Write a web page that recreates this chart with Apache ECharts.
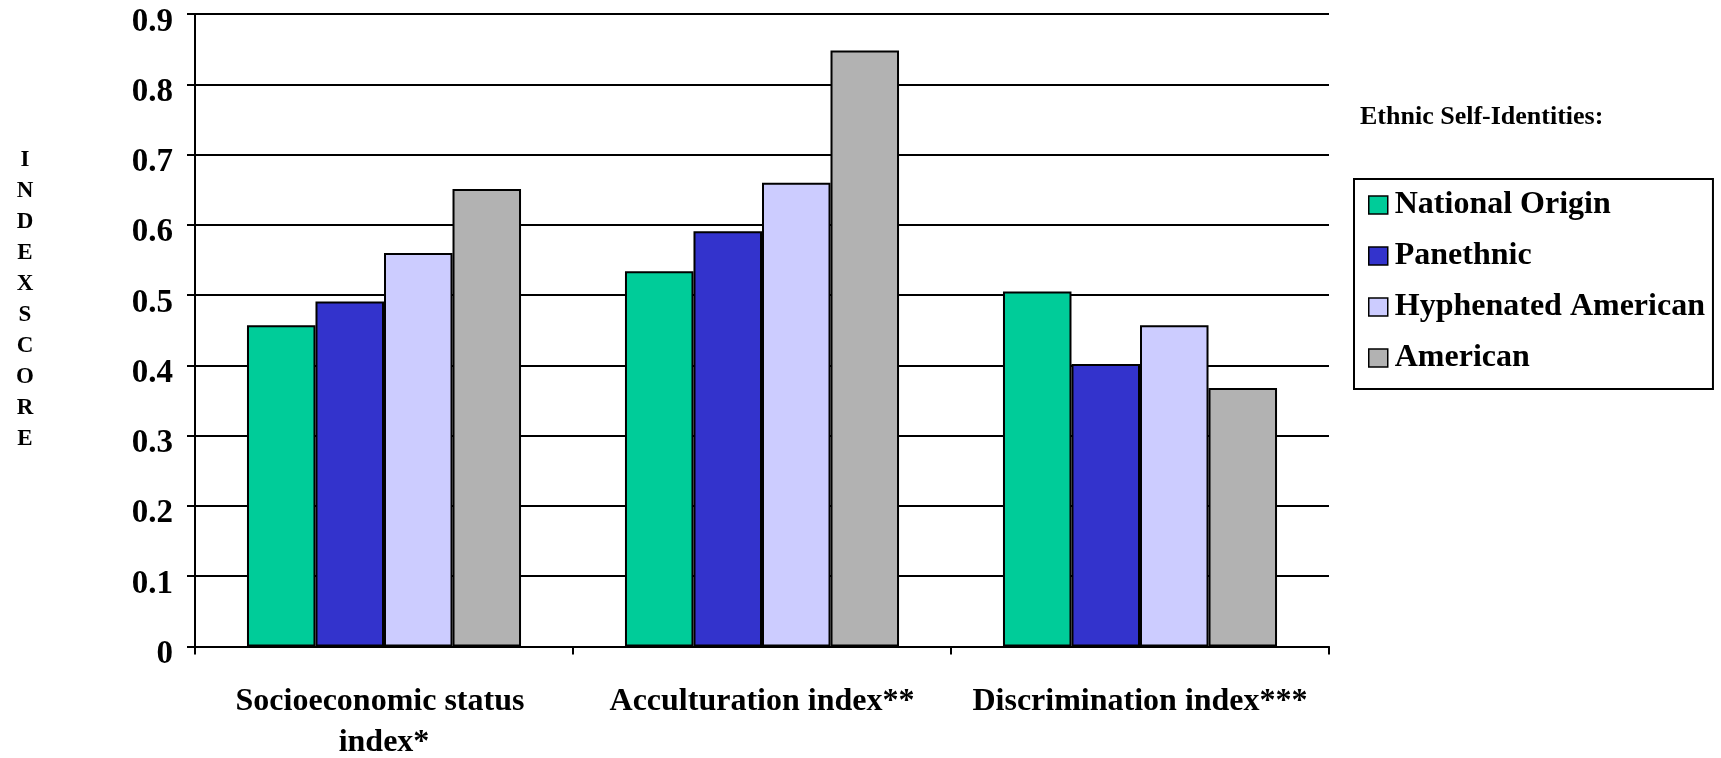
<!DOCTYPE html>
<html>
<head>
<meta charset="utf-8">
<title>Index scores by ethnic self-identity</title>
<script src="https://cdn.jsdelivr.net/npm/echarts@6/dist/echarts.min.js"></script>
<style>
  html, body { margin: 0; padding: 0; background: #ffffff; }
  #chart { width: 1721px; height: 758px; }
</style>
</head>
<body>
<div id="chart"></div>
<script>
// Index categories along the x axis
const categories = ['Socioeconomic status index*', 'Acculturation index**', 'Discrimination index***'];

// Ethnic self-identity groups (one bar series each)
const identities = ['National Origin', 'Panethnic', 'Hyphenated American', 'American'];

// Mean index score per category, one array per identity
const nationalOrigin = [0.457, 0.534, 0.505];
const panethnic = [0.491, 0.591, 0.402];
const hyphenatedAmerican = [0.56, 0.66, 0.457];
const american = [0.651, 0.848, 0.368];

const seriesValues = [nationalOrigin, panethnic, hyphenatedAmerican, american];
const seriesColors = ['#00CC99', '#3333CC', '#CCCCFF', '#B2B2B2'];

// Y axis range and text
const yMin = 0, yMax = 0.9, yStep = 0.1;
const yAxisTitle = 'INDEXSCORE';
const legendTitle = 'Ethnic Self-Identities:';

const serif = "'Liberation Serif', 'Times New Roman', Times, serif";

const chart = echarts.init(document.getElementById('chart'), null, { renderer: 'canvas' });

const option = {
  backgroundColor: '#ffffff',
  animation: false,
  grid: {
    left: 195,
    right: 392,
    top: 14,
    bottom: 111.5,
    containLabel: false,
    outerBoundsMode: 'none'
  },
  xAxis: {
    type: 'category',
    data: categories,
    axisLine: { show: true, lineStyle: { color: '#000', width: 2 } },
    axisTick: { show: true, length: 8, interval: 0, lineStyle: { color: '#000', width: 2 } },
    axisLabel: {
      interval: 0,
      margin: 35,
      color: '#000',
      fontFamily: serif,
      fontWeight: 'bold',
      fontSize: 32,
      lineHeight: 41,
      width: 370,
      overflow: 'break'
    },
    splitLine: { show: false }
  },
  yAxis: {
    type: 'value',
    min: yMin,
    max: yMax,
    interval: yStep,
    axisLine: { show: true, lineStyle: { color: '#000', width: 2 } },
    axisTick: { show: true, length: 8, lineStyle: { color: '#000', width: 2 } },
    axisLabel: {
      margin: 22,
      color: '#000',
      fontFamily: serif,
      fontWeight: 'bold',
      fontSize: 33,
      verticalAlign: 'top',
      lineHeight: 16,
      formatter: v => (Math.round(v * 10) / 10).toString()
    },
    splitLine: { show: true, lineStyle: { color: '#000', width: 2 } }
  },
  legend: {
    orient: 'vertical',
    left: 1354,
    top: 179,
    data: identities,
    backgroundColor: '#ffffff',
    borderColor: '#000',
    borderWidth: 2,
    borderRadius: 0,
    padding: [10, 8, 15, 14],
    itemGap: 19,
    itemWidth: 19,
    itemHeight: 18,
    icon: 'rect',
    itemStyle: { borderColor: '#000', borderWidth: 1.5 },
    textStyle: {
      color: '#000',
      fontFamily: serif,
      fontWeight: 'bold',
      fontSize: 32,
      lineHeight: 32,
      padding: [0, 0, 0, 2]
    },
    selectedMode: false
  },
  graphic: [
    {
      type: 'text',
      left: 1360,
      top: 104,
      style: {
        text: legendTitle,
        fill: '#000',
        font: 'bold 26px ' + serif
      }
    },
    {
      type: 'text',
      x: 25,
      y: 300,
      style: {
        text: yAxisTitle.split('').join('\n'),
        fill: '#000',
        font: 'bold 23px ' + serif,
        lineHeight: 31,
        align: 'center',
        verticalAlign: 'middle'
      }
    }
  ],
  series: identities.map((name, i) => ({
    name: name,
    type: 'bar',
    data: seriesValues[i],
    barGap: '0%',
    barCategoryGap: '27.5%',
    itemStyle: {
      color: seriesColors[i],
      borderColor: '#000',
      borderWidth: 2
    },
    emphasis: { disabled: true }
  }))
};

chart.setOption(option);
</script>
</body>
</html>
